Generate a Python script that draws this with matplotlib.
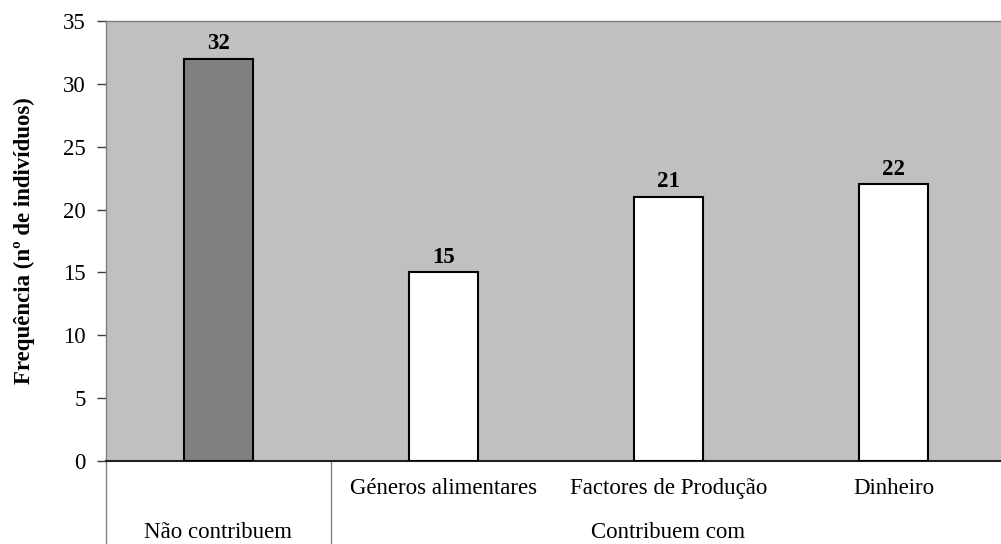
import matplotlib.pyplot as plt
import numpy as np

plt.rcParams['font.family'] = ['Liberation Serif', 'DejaVu Serif']

# dados
categorias = ["Géneros alimentares", "Factores de Produção", "Dinheiro"]
grupos = ["Não contribuem", "Contribuem com"]
valores = [32, 15, 21, 22]
cores = ['#808080', 'white', 'white', 'white']
yticks = [0, 5, 10, 15, 20, 25, 30, 35]

fig = plt.figure(figsize=(10.01, 5.44), dpi=100)
ax = fig.add_axes([106/1001, 83/544, 900/1001, 440/544])
ax.set_facecolor('#C0C0C0')

x = np.arange(len(valores))
ax.bar(x, valores, width=0.31, color=cores, edgecolor='black', linewidth=1.5, zorder=3)

for xi, v in zip(x, valores):
    ax.annotate(str(v), (xi, v), xytext=(0, 11), textcoords='offset points',
                ha='center', va='center', fontsize=16.5, fontweight='bold')

ax.set_xlim(-0.5, len(valores) - 0.5)
ax.set_ylim(0, 35)
ax.set_yticks(yticks)
ax.tick_params(axis='y', direction='out', length=6.5, width=1, labelsize=16.5,
               color='#404040', pad=8)
ax.set_xticks([])

for s in ['top', 'right', 'left']:
    ax.spines[s].set_color('#808080')
    ax.spines[s].set_linewidth(1)
ax.spines['bottom'].set_color('#202020')
ax.spines['bottom'].set_linewidth(1.5)

ax.set_ylabel("Frequência (nº de indivíduos)", fontsize=16.5, fontweight='bold', labelpad=20)

# eixo de categorias em dois níveis
trans = ax.get_xaxis_transform()
for xi, lab in zip(x[1:], categorias):
    ax.text(xi, -0.062, lab, transform=trans, ha='center', va='center', fontsize=16.5)
ax.text(0, -0.162, grupos[0], transform=trans, ha='center', va='center', fontsize=16.5)
ax.text(2, -0.162, grupos[1], transform=trans, ha='center', va='center', fontsize=16.5)
for xs in [-0.5, 0.5]:
    ax.plot([xs, xs], [0, -0.2], transform=trans, color='#808080', lw=1, clip_on=False)

fig.savefig('out.png', dpi=100)
